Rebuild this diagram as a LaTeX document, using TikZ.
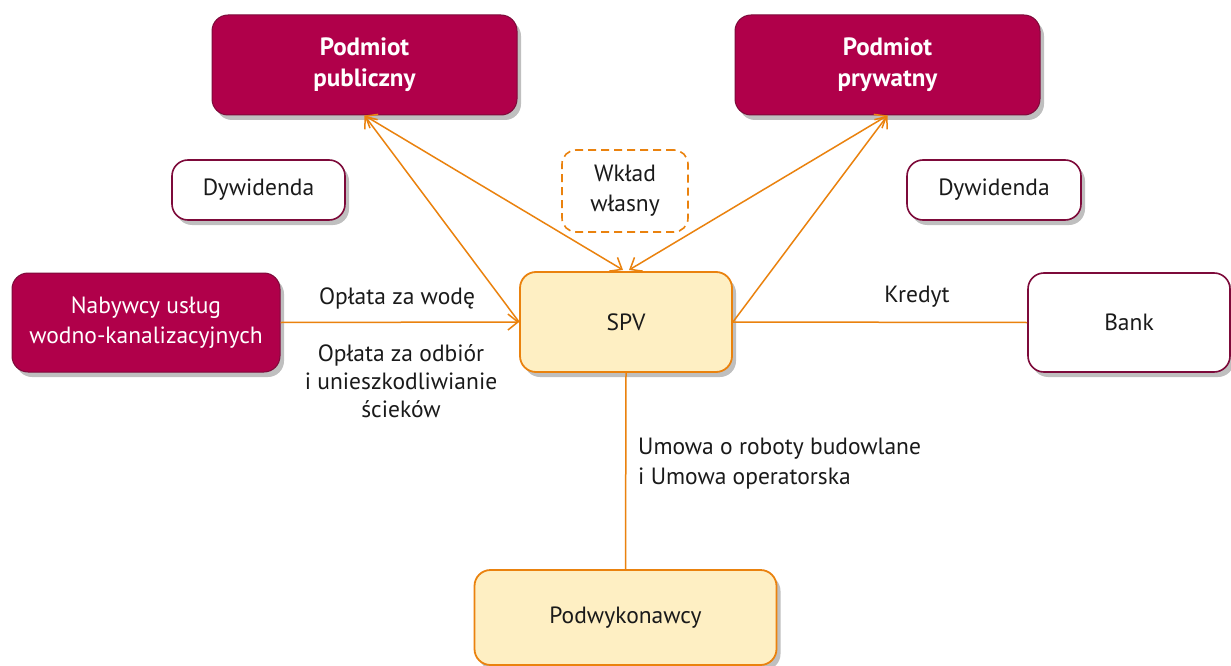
\documentclass[tikz,border=0pt]{standalone}
\usepackage{fontspec}
\setmainfont{PT Sans}
\usetikzlibrary{arrows.meta,shadows}
\definecolor{crim}{HTML}{B0004A}
\definecolor{crimdark}{HTML}{7D0A3A}
\definecolor{orng}{HTML}{EA820E}
\definecolor{spvfill}{HTML}{FEEFC3}
\definecolor{txt}{HTML}{1A1A1A}
\begin{document}
\begin{tikzpicture}[x=1pt,y=-1pt,
  every node/.style={font=\fontsize{23.5}{28}\selectfont, text=txt, align=center, inner sep=0pt},
  boxbase/.style={rounded corners=16pt, drop shadow={shadow xshift=4pt, shadow yshift=-5pt, opacity=0.25, fill=black}},
  redbox/.style={boxbase, fill=crim, draw=crimdark, line width=1pt, text=white},
  whitebox/.style={boxbase, fill=white, draw=crimdark, line width=1.6pt},
  orbox/.style={boxbase, fill=spvfill, draw=orng, line width=1.8pt},
  dashbox/.style={rounded corners=14pt, draw=orng, dashed, dash pattern=on 8pt off 5pt, line width=1.6pt, fill=white},
  conn/.style={draw=orng, line width=1.5pt},
  arr/.style={-{Straight Barb[length=10pt,width=16pt]}},
  darr/.style={{Straight Barb[length=10pt,width=16pt]}-{Straight Barb[length=10pt,width=16pt]}},
  lbl/.style={font=\fontsize{23.5}{28}\selectfont}
]
\useasboundingbox (0,0) rectangle (1231,666);
\fill[white] (0,0) rectangle (1231,666);

\node[redbox, minimum width=305pt, minimum height=100pt, font=\bfseries\fontsize{25}{31}\selectfont] (pub) at (364.5,65) {Podmiot\\publiczny};
\node[redbox, minimum width=305pt, minimum height=100pt, font=\bfseries\fontsize{25}{31}\selectfont] (pry) at (887.5,65) {Podmiot\\prywatny};
\node[whitebox, minimum width=173pt, minimum height=60pt] (dyw1) at (258.5,190) {Dywidenda};
\node[whitebox, minimum width=174pt, minimum height=60pt] (dyw2) at (994,190) {Dywidenda};
\node[dashbox, minimum width=126pt, minimum height=82pt, font=\fontsize{23.5}{30}\selectfont] (wk) at (625,191) {Wkład\\własny};
\node[redbox, minimum width=268pt, minimum height=99pt, font=\fontsize{23.5}{30}\selectfont] (nab) at (146,322.5) {Nabywcy usług\\wodno-kanalizacyjnych};
\node[orbox, minimum width=212pt, minimum height=100pt] (spv) at (626,322) {SPV};
\node[whitebox, minimum width=202pt, minimum height=99pt] (bank) at (1129,322.5) {Bank};
\node[orbox, minimum width=302pt, minimum height=95pt] (podw) at (625.5,617.5) {Podwykonawcy};

\coordinate (spvt1) at (623,270);
\coordinate (spvt2) at (629,270);
\draw[conn, darr] (pub.south) -- (spvt1);
\draw[conn, darr] (pry.south) -- (spvt2);
\draw[conn, arr] (spv.west) -- (pub.south);
\draw[conn, arr] (spv.east) -- (pry.south);
\draw[conn, arr] (nab.east) -- (spv.west);
\draw[conn] (spv.east) -- (bank.west);
\draw[conn] (spv.south) -- (podw.north);

\node[lbl] (l1) at (397,298) {Opłata za wodę};
\node[lbl] (l2) at (401,381) {Opłata za odbiór\\i unieszkodliwianie\\ścieków};
\node[lbl] (l3) at (917,297) {Kredyt};
\node[lbl, align=left, anchor=west, font=\fontsize{23.5}{30}\selectfont] (l4) at (638,464) {Umowa o roboty budowlane\\i Umowa operatorska};
\end{tikzpicture}
\end{document}
